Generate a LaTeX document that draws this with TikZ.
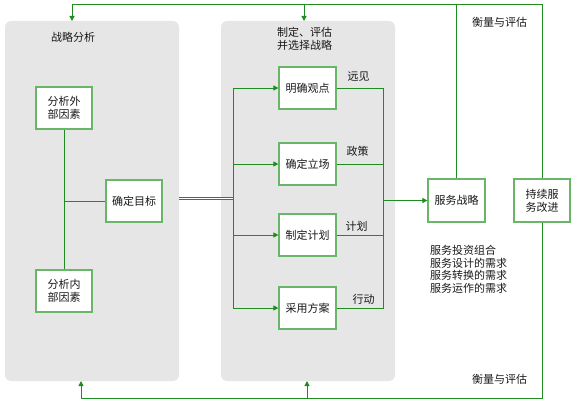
\documentclass[tikz,border=0pt]{standalone}
\usepackage{fontspec}
\setmainfont{Noto Sans CJK SC}
\usetikzlibrary{arrows.meta}
\definecolor{panelgray}{RGB}{230,230,230}
\definecolor{boxgreen}{RGB}{105,182,105}
\definecolor{linegreen}{RGB}{30,140,30}
\begin{document}
\begin{tikzpicture}[x=1pt,y=-1pt,
  every node/.style={font=\fontsize{11}{12.7}\selectfont, text=black!90},
  panel/.style={draw=none, fill=panelgray, rounded corners=6pt},
  box/.style={draw=boxgreen, line width=1.2pt, fill=white, minimum width=56pt, minimum height=42pt, inner sep=1pt, align=center},
  conn/.style={draw=linegreen, line width=1pt},
  arr/.style={conn, -{Triangle[length=5pt,width=5pt]}},
  lbl/.style={inner sep=0pt}
]
\useasboundingbox (0,0) rectangle (575,404);
% panels
\draw[panel] (5,21) rectangle (179,381);
\draw[panel] (221,21) rectangle (395,381);
\coordinate (p1top) at (72,21);
\coordinate (p2top) at (304,21);
\coordinate (p1bot) at (81,381);
\coordinate (p2bot) at (307,381);
\coordinate (p1east) at (179,198.5);

\node[lbl] (t1) at (73,37.5) {战略分析};
\node[lbl, align=center] (t2) at (304.5,38.5) {制定、评估\\并选择战略};

% boxes
\node[box] (ext) at (64,108) {分析外\\部因素};
\node[box] (int) at (64,291) {分析内\\部因素};
\node[box] (goal) at (134,201) {确定目标};
\node[box, minimum width=57pt] (view) at (307.5,88) {明确观点};
\node[box, minimum width=57pt] (stand) at (307.5,164) {确定立场};
\node[box, minimum width=57pt] (plan) at (307.5,235) {制定计划};
\node[box, minimum width=57pt] (adopt) at (307.5,308) {采用方案};
\node[box, minimum width=57pt, minimum height=43pt] (svc) at (456.5,200.5) {服务战略};
\node[box, minimum height=43pt] (csi) at (542,200.5) {持续服\\务改进};

% left panel connectors
\draw[conn] (ext.south) -- (int.north);
\draw[conn] (ext.south |- goal.west) -- (goal.west);

% double line to bus
\coordinate (lb) at (233,198.5);
\draw[draw=linegreen, line width=0.8pt, double=white, double distance=1.6pt] (p1east) -- (lb);

% left bus
\coordinate (lbtop) at (233,88);
\coordinate (lbbot) at (233,308);
\draw[conn] (lbtop) -- (lbbot);
\draw[arr] (lbtop) -- (view.west);
\draw[arr] (lbtop |- stand.west) -- (stand.west);
\draw[arr] (lbtop |- plan.west) -- (plan.west);
\draw[arr] (lbbot) -- (adopt.west);

% right bus
\coordinate (rbtop) at (383,88);
\coordinate (rbbot) at (383,308);
\draw[conn] (view.east) -- (rbtop) -- (rbbot) -- (adopt.east);
\draw[conn] (stand.east) -- (rbtop |- stand.east);
\draw[conn] (plan.east) -- (rbtop |- plan.east);
\draw[arr] (rbtop |- svc.west) -- (svc.west);

\node[lbl] (l1) at (358.5,77) {远见};
\node[lbl] (l2) at (357.5,151) {政策};
\node[lbl] (l3) at (356.5,226) {计划};
\node[lbl] (l4) at (363.5,299) {行动};

% top feedback
\coordinate (topy) at (0,5);
\draw[conn] (csi.north) |- (p1top |- topy);
\draw[arr] (p1top |- topy) -- (p1top);
\draw[arr] (p2top |- topy) -- (p2top);
\draw[conn] (svc.north) -- (svc.north |- topy);

% bottom feedback
\coordinate (boty) at (0,398);
\draw[conn] (csi.south) |- (p1bot |- boty);
\draw[arr] (p1bot |- boty) -- (p1bot);
\draw[arr] (p2bot |- boty) -- (p2bot);

\node[lbl] (m1) at (499.5,22) {衡量与评估};
\node[lbl] (m2) at (499.5,379) {衡量与评估};

\node[lbl, anchor=north west, align=left] (list) at (430,245) {服务投资组合\\服务设计的需求\\服务转换的需求\\服务运作的需求};
\end{tikzpicture}
\end{document}
